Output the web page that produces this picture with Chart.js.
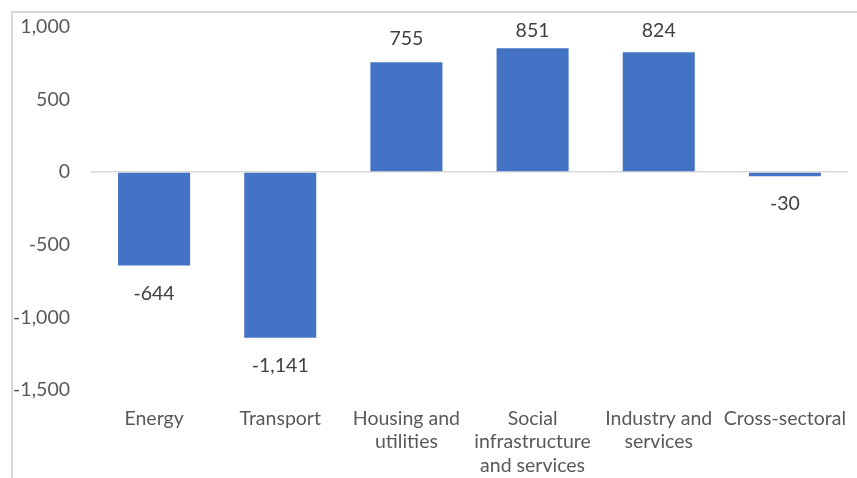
<!DOCTYPE html>
<html>
<head>
<meta charset="utf-8">
<script src="https://cdn.jsdelivr.net/npm/chart.js@4"></script>
<style>
  html, body { margin: 0; padding: 0; background: #ffffff; }
  #wrap { width: 857px; height: 478px; position: relative; }
</style>
</head>
<body>
<div id="wrap"><canvas id="c" width="857" height="478"></canvas></div>
<script>
const categories = [
  "Energy",
  "Transport",
  ["Housing and", "utilities"],
  ["Social", "infrastructure", "and services"],
  ["Industry and", "services"],
  "Cross-sectoral"
];
const values = [-644, -1141, 755, 851, 824, -30];
const yTicks = [-1500, -1000, -500, 0, 500, 1000];

const FONT = "Lato, 'Noto Sans', sans-serif";
const FSIZE = 19.5;

const framePlugin = {
  id: 'frame',
  beforeDraw(chart) {
    const ctx = chart.ctx;
    ctx.save();
    ctx.strokeStyle = '#d9d9d9';
    ctx.lineWidth = 2;
    ctx.beginPath();
    ctx.moveTo(12, chart.height);
    ctx.lineTo(12, 12);
    ctx.lineTo(chart.width, 12);
    ctx.stroke();
    ctx.restore();
  }
};

const labelPlugin = {
  id: 'barLabels',
  afterDatasetsDraw(chart) {
    const ctx = chart.ctx;
    const meta = chart.getDatasetMeta(0);
    ctx.save();
    ctx.font = FSIZE + "px " + FONT;
    ctx.fillStyle = '#404040';
    ctx.textAlign = 'center';
    ctx.textBaseline = 'alphabetic';
    meta.data.forEach((bar, i) => {
      const v = values[i];
      const txt = v.toLocaleString('en-US');
      let y;
      if (v >= 0) {
        y = Math.max(bar.y - 17, 36.5);
      } else {
        y = bar.y + 34;
      }
      ctx.fillText(txt, bar.x, y);
    });
    ctx.restore();
  }
};

new Chart(document.getElementById('c'), {
  type: 'bar',
  data: {
    labels: categories,
    datasets: [{
      data: values,
      backgroundColor: '#4472C4',
      borderWidth: 0,
      barPercentage: 0.571,
      categoryPercentage: 1.0
    }]
  },
  options: {
    responsive: false,
    animation: false,
    devicePixelRatio: 1,
    layout: { padding: { top: 26.6, right: 9, bottom: 0, left: 0 } },
    plugins: {
      legend: { display: false },
      tooltip: { enabled: false }
    },
    scales: {
      x: {
        grid: { display: false, drawTicks: false },
        border: { display: false },
        ticks: {
          color: '#595959',
          font: { family: FONT, size: FSIZE, lineHeight: 1.2 },
          padding: 17,
          maxRotation: 0,
          minRotation: 0,
          autoSkip: false
        },
        afterFit(scale) {
          scale.height = 88;
          scale.paddingLeft = 0;
          scale.paddingRight = 0;
        }
      },
      y: {
        min: -1500,
        max: 1000,
        afterBuildTicks(scale) { scale.ticks = yTicks.map(v => ({ value: v })); },
        grid: {
          drawTicks: false,
          color: (c) => (c.tick && c.tick.value === 0) ? '#d9d9d9' : 'rgba(0,0,0,0)',
          lineWidth: 1.5
        },
        border: { display: false },
        ticks: {
          color: '#595959',
          font: { family: FONT, size: FSIZE },
          padding: 21,
          callback: (v) => Number(v).toLocaleString('en-US')
        },
        afterFit(scale) {
          scale.width = 91;
          scale.paddingTop = 0;
          scale.paddingBottom = 0;
        }
      }
    }
  },
  plugins: [framePlugin, labelPlugin]
});
</script>
</body>
</html>
